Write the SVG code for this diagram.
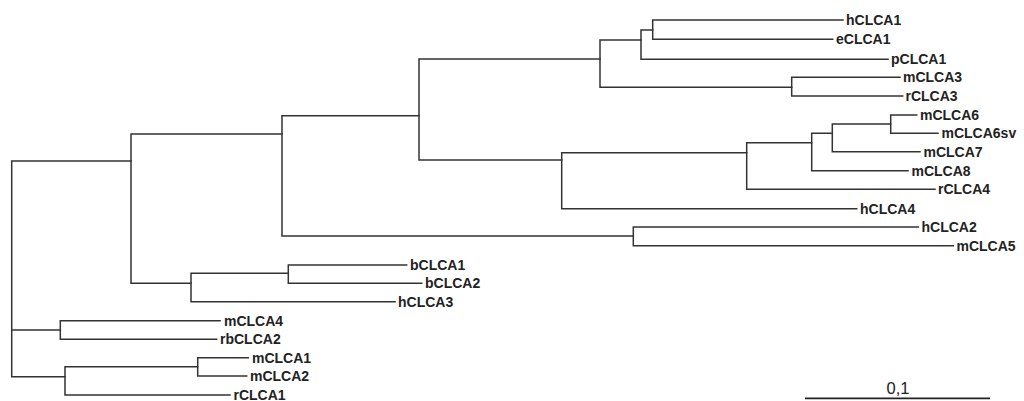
<svg xmlns="http://www.w3.org/2000/svg" width="1024" height="401" viewBox="0 0 1024 401">
<style>
.e{fill:none;stroke:#333;stroke-width:1.5;stroke-linecap:square}
.t{font-family:"Liberation Sans",Arial,sans-serif;font-weight:bold;font-size:14px;fill:#222}
.s{font-family:"Liberation Sans",Arial,sans-serif;font-size:16.5px;fill:#222;text-anchor:middle}
</style>
<rect width="1024" height="401" fill="#fff"/>
<g id="connectors">
<path class="e" d="M11.7 161V376.7M11.7 161H131M11.7 330H60.3M11.7 376.7H65"/>
<path class="e" d="M131 134V283.3M131 134H282M131 283.3H191"/>
<path class="e" d="M282 115.7V236M282 115.7H419M282 236H633.3"/>
<path class="e" d="M419 59V160M419 59H600M419 160H561.7"/>
<path class="e" d="M600 40V87.3M600 40H641M600 87.3H791.7"/>
<path class="e" d="M641 30V59.3M641 30H652.7M641 59.3H888"/>
<path class="e" d="M652.7 20V39.3M652.7 20H843M652.7 39.3H832.7"/>
<path class="e" d="M791.7 77.3V96M791.7 77.3H900M791.7 96H902.7"/>
<path class="e" d="M561.7 152.7V208.7M561.7 152.7H746.7M561.7 208.7H856.7"/>
<path class="e" d="M746.7 142.7V189.3M746.7 142.7H811.7M746.7 189.3H935"/>
<path class="e" d="M811.7 133.3V170.7M811.7 133.3H832.3M811.7 170.7H908"/>
<path class="e" d="M832.3 124V151.7M832.3 124H890.7M832.3 151.7H920"/>
<path class="e" d="M890.7 115V133.3M890.7 115H916.7M890.7 133.3H938"/>
<path class="e" d="M633.3 227V245.7M633.3 227H918.3M633.3 245.7H953.3"/>
<path class="e" d="M191 273.3V301.7M191 273.3H288.3M191 301.7H395"/>
<path class="e" d="M288.3 265V283.3M288.3 265H406.7M288.3 283.3H421.7"/>
<path class="e" d="M60.3 320.7V339.3M60.3 320.7H220M60.3 339.3H216.7"/>
<path class="e" d="M65 366.7V395M65 366.7H197.7M65 395H230"/>
<path class="e" d="M197.7 357.7V376M197.7 357.7H248.3M197.7 376H246.7"/>
</g>
<g id="hCLCA1"><text class="t" x="846" y="25">hCLCA1</text></g>
<g id="eCLCA1"><text class="t" x="836" y="44.3">eCLCA1</text></g>
<g id="pCLCA1"><text class="t" x="891" y="64.3">pCLCA1</text></g>
<g id="mCLCA3"><text class="t" x="903" y="82.3">mCLCA3</text></g>
<g id="rCLCA3"><text class="t" x="905.5" y="101">rCLCA3</text></g>
<g id="mCLCA6"><text class="t" x="920" y="120">mCLCA6</text></g>
<g id="mCLCA6sv"><text class="t" x="941.5" y="138.3">mCLCA6sv</text></g>
<g id="mCLCA7"><text class="t" x="923.5" y="156.7">mCLCA7</text></g>
<g id="mCLCA8"><text class="t" x="911.5" y="175.7">mCLCA8</text></g>
<g id="rCLCA4"><text class="t" x="938" y="194.3">rCLCA4</text></g>
<g id="hCLCA4"><text class="t" x="860" y="213.7">hCLCA4</text></g>
<g id="hCLCA2"><text class="t" x="921.5" y="232">hCLCA2</text></g>
<g id="mCLCA5"><text class="t" x="956.5" y="250.7">mCLCA5</text></g>
<g id="bCLCA1"><text class="t" x="410" y="270">bCLCA1</text></g>
<g id="bCLCA2"><text class="t" x="425" y="288.3">bCLCA2</text></g>
<g id="hCLCA3"><text class="t" x="398" y="306.7">hCLCA3</text></g>
<g id="mCLCA4"><text class="t" x="224" y="325.7">mCLCA4</text></g>
<g id="rbCLCA2"><text class="t" x="220" y="344.3">rbCLCA2</text></g>
<g id="mCLCA1"><text class="t" x="252" y="362.7">mCLCA1</text></g>
<g id="mCLCA2"><text class="t" x="250" y="381">mCLCA2</text></g>
<g id="rCLCA1"><text class="t" x="233.5" y="400">rCLCA1</text></g>
<g id="scalebar">
<path d="M805 398.3H990" stroke="#222" stroke-width="1.8" fill="none"/>
<text class="s" x="898" y="393.5">0,1</text>
</g>
</svg>
